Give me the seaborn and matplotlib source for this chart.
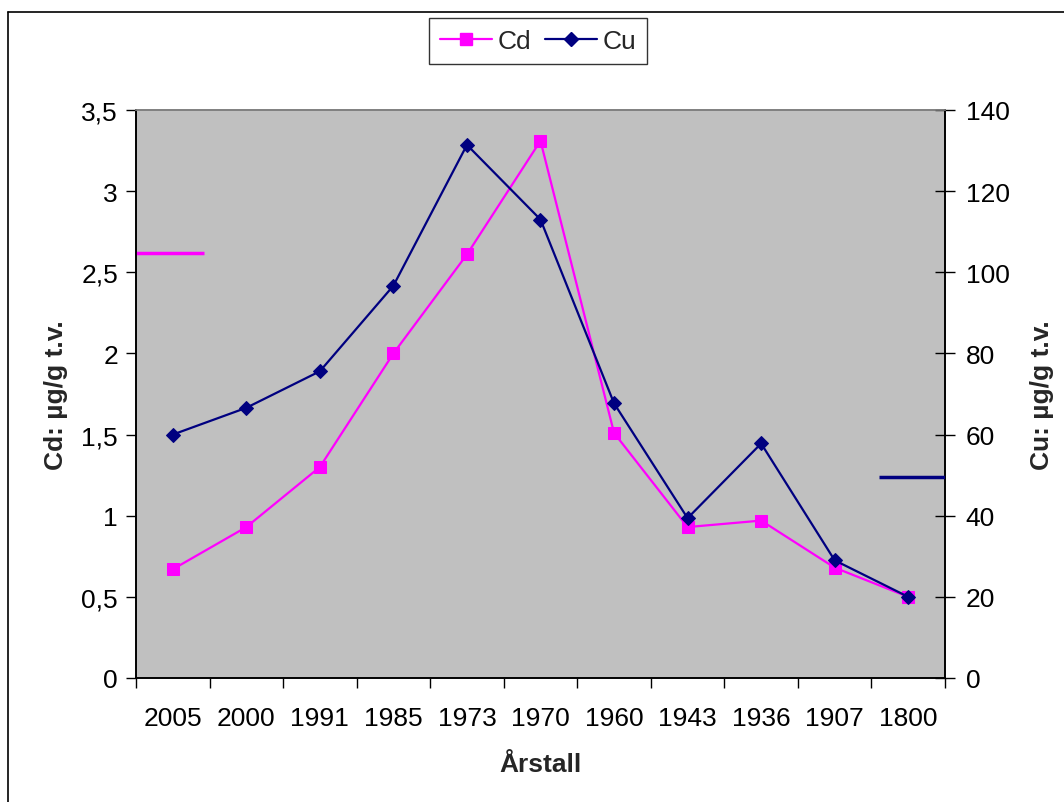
import matplotlib
matplotlib.use("Agg")
import matplotlib.pyplot as plt
from matplotlib.lines import Line2D
from matplotlib.ticker import FixedLocator, FuncFormatter
import seaborn as sns
import pandas as pd
import numpy as np

# ---- data ----
years = ["2005", "2000", "1991", "1985", "1973", "1970", "1960", "1943", "1936", "1907", "1800"]
cd_values = [0.67, 0.93, 1.30, 2.00, 2.61, 3.31, 1.51, 0.93, 0.97, 0.68, 0.50]
cu_values = [60.0, 66.6, 75.6, 96.7, 131.4, 113.0, 67.7, 39.4, 57.8, 29.0, 20.0]
cd_reference = 2.62
cu_reference = 49.5
cd_ticks = [0, 0.5, 1, 1.5, 2, 2.5, 3, 3.5]
cu_ticks = [0, 20, 40, 60, 80, 100, 120, 140]

df = pd.DataFrame({"Årstall": years, "Cd": cd_values, "Cu": cu_values})

sns.set_theme(style="white")
plt.rcParams["font.family"] = ["Liberation Sans", "DejaVu Sans"]

MAG = "#FF00FF"
NAVY = "#000080"
FS = 19

fig = plt.figure(figsize=(10.64, 8.03), dpi=100)
ax = fig.add_axes([136 / 1064, 1 - 679 / 803, (945 - 136) / 1064, (679 - 111) / 803])
ax.set_facecolor("#C0C0C0")
ax2 = ax.twinx()

sns.lineplot(data=df, x="Årstall", y="Cd", ax=ax, sort=False, color=MAG,
             linewidth=1.6, marker="s", markersize=8, markeredgecolor=MAG,
             markerfacecolor=MAG)
sns.lineplot(data=df, x="Årstall", y="Cu", ax=ax2, sort=False, color=NAVY,
             linewidth=1.6, marker="D", markersize=7, markeredgecolor=NAVY,
             markerfacecolor=NAVY)

n = len(years)
ax.set_xlim(-0.5, n - 0.5)
ax.set_ylim(0, 3.5)
ax2.set_ylim(0, 140)

# reference level marks
ax.hlines(cd_reference, -0.5, 0.42, color=MAG, linewidth=2.5, zorder=3)
ax2.hlines(cu_reference, n - 1.4, n - 0.5, color=NAVY, linewidth=2.5, zorder=3)

# ticks
ax.set_yticks(cd_ticks)
ax.yaxis.set_major_formatter(FuncFormatter(lambda v, p: ("%g" % v).replace(".", ",")))
ax2.set_yticks(cu_ticks)
ax.set_xticks(range(n))
ax.set_xticklabels(years)
ax.xaxis.set_minor_locator(FixedLocator(np.arange(-0.5, n, 1.0)))
ax.tick_params(axis="x", which="major", length=0, pad=20, labelsize=FS, colors="black")
ax.tick_params(axis="x", which="minor", length=7, width=1, direction="out", color="black", bottom=True)
ax.tick_params(axis="y", which="major", length=7, width=1, direction="out", left=True,
               labelsize=FS, pad=6, colors="black")
ax2.tick_params(axis="y", which="major", length=14, width=1, direction="inout", right=True,
                labelsize=FS, pad=8, colors="black")

for a in (ax, ax2):
    for s in a.spines.values():
        s.set_visible(True)
        s.set_color("black")
        s.set_linewidth(1.2)
    a.spines["top"].set_color("#808080")

ax.set_xlabel("Årstall", fontsize=FS, fontweight="bold")
ax.set_ylabel("Cd: µg/g t.v.", fontsize=FS, fontweight="bold")
ax2.set_ylabel("Cu: µg/g t.v.", fontsize=FS, fontweight="bold")
ax.xaxis.set_label_coords(0.5, -0.130)
ax.yaxis.set_label_coords(-0.084, 0.5)
ax2.yaxis.set_label_coords(1.105, 0.5)
ax.grid(False)
ax2.grid(False)

# legend
handles = [
    Line2D([], [], color=MAG, linewidth=1.6, marker="s", markersize=8, markerfacecolor=MAG, markeredgecolor=MAG),
    Line2D([], [], color=NAVY, linewidth=1.6, marker="D", markersize=7, markerfacecolor=NAVY, markeredgecolor=NAVY),
]
if ax.get_legend():
    ax.get_legend().remove()
if ax2.get_legend():
    ax2.get_legend().remove()
leg = fig.legend(handles, ["Cd", "Cu"], loc="center", bbox_to_anchor=(538 / 1064, 1 - 42 / 803),
                 ncol=2, fontsize=FS, frameon=True, fancybox=False, shadow=False,
                 handlelength=2.0, handletextpad=0.2, columnspacing=0.5, borderpad=0.4,
                 borderaxespad=0)
leg.get_frame().set_edgecolor("black")
leg.get_frame().set_linewidth(1.0)

# outer chart frame (top and left edges visible)
fig.add_artist(Line2D([8 / 1064, 1.0], [1 - 13 / 803, 1 - 13 / 803], color="black", linewidth=1.2,
                      transform=fig.transFigure))
fig.add_artist(Line2D([8 / 1064, 8 / 1064], [0.0, 1 - 13 / 803], color="black", linewidth=1.2,
                      transform=fig.transFigure))

fig.savefig("out.png", dpi=100, facecolor="white")
